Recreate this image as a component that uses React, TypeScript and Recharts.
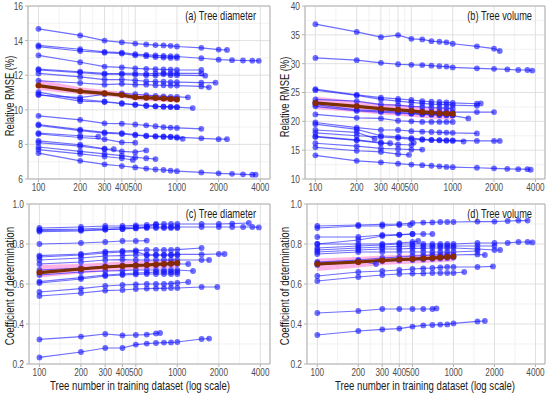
import React from "react";
import {
  ComposedChart,
  Line,
  Area,
  XAxis,
  YAxis,
  CartesianGrid,
  ReferenceArea,
} from "recharts";

// sample sizes along x; a series' last point may sit at its own "end" size
const xGrid = [100, 200, 300, 400, 500, 600, 700, 800, 900, 1000, 1500, 2000, 2500, 3000, 3500];
const xTicks = [100, 200, 300, 400, 500, 1000, 2000, 4000];
const xMinor = [141, 245, 346, 447, 707, 1414, 2828];
const xDomain = [84, 4700];

type Series = { y: number[]; end?: number };

// (a) relative RMSE (%) - tree diameter
const diamRmse: Series[] = [
  { y: [14.68, 14.3, 14.0, 13.9, 13.83, 13.78, 13.74, 13.72, 13.7, 13.66, 13.58, 13.48, 13.46], end: 2300 },
  { y: [13.72, 13.5, 13.35, 13.3, 13.22, 13.18, 13.15, 13.12, 13.1, 13.08, 12.98, 12.9, 12.87, 12.85, 12.84, 12.83], end: 3900 },
  { y: [13.65, 13.4, 13.3, 13.25, 13.15, 13.1, 13.05, 13.02, 13.0, 13.0] },
  { y: [13.15, 12.75, 12.5, 12.45, 12.4, 12.37, 12.35, 12.33, 12.32, 12.3, 12.3] },
  { y: [12.35, 12.2, 12.1, 12.05, 12.02, 12.0, 11.98, 12.05, 12.0, 12.0, 11.97], end: 1600 },
  { y: [12.3, 12.15, 12.05, 12.1, 12.1, 12.08, 12.1, 12.12, 12.1, 12.1, 12.1] },
  { y: [12.1, 11.9, 11.75, 11.75, 11.7, 11.65, 11.63, 11.62, 11.6, 11.6, 11.57, 11.57], end: 1900 },
  { y: [11.68, 11.55, 11.45, 11.5, 11.45, 11.45, 11.42, 11.42, 11.4, 11.4, 11.35, 11.3], end: 1700 },
  { y: [11.02, 10.6, 10.48, 10.38, 10.3, 10.25, 10.2, 10.18, 10.16, 10.15, 10.1], end: 1300 },
  { y: [10.85, 10.7, 10.9, 10.95, 10.9, 10.85, 10.8, 10.78, 10.75, 10.75, 10.72], end: 1200 },
  { y: [10.9, 10.5, 10.45, 10.35, 10.28, 10.22, 10.2, 10.18, 10.17, 10.15] },
  { y: [9.65, 9.42, 9.22, 9.2, 9.15, 9.1, 9.05, 9.0, 8.97, 8.95, 8.9] },
  { y: [9.15, 8.85, 8.7, 8.65, 8.57, 8.5, 8.48, 8.46, 8.45, 8.42, 8.35, 8.3, 8.3], end: 2300 },
  { y: [9.1, 8.8, 8.65, 8.6, 8.53, 8.48, 8.45, 8.43, 8.42, 8.38, 8.32], end: 1100 },
  { y: [8.65, 8.5, 8.45], end: 270 },
  { y: [8.6, 8.4, 8.3, 8.12, 8.1] },
  { y: [8.2, 7.98, 7.75, 7.72], end: 350 },
  { y: [8.1, 7.9, 7.72, 7.6, 7.55, 7.65] },
  { y: [7.85, 7.6, 7.45, 7.35, 7.25, 7.2, 7.15] },
  { y: [7.7, 7.45, 7.3, 7.2, 7.1], end: 480 },
  { y: [7.5, 7.05, 6.85, 6.75, 6.67, 6.6, 6.55, 6.52, 6.48, 6.45, 6.38, 6.33, 6.3, 6.27, 6.25, 6.25], end: 3700 },
];
const diamRmseMean = [11.4, 11.07, 10.95, 10.85, 10.72, 10.7, 10.68, 10.65, 10.63, 10.6];
const diamRmseLow = [11.15, 10.9, 10.8, 10.7, 10.55, 10.52, 10.5, 10.47, 10.45, 10.42];
const diamRmseHigh = [11.75, 11.3, 11.15, 11.05, 10.9, 10.88, 10.86, 10.83, 10.8, 10.78];

// (b) relative RMSE (%) - tree volume
const volRmse: Series[] = [
  { y: [36.85, 35.5, 34.6, 34.95, 34.3, 34.2, 33.9, 33.8, 33.7, 33.45, 33.0, 32.6, 32.2], end: 2200 },
  { y: [31.0, 30.6, 30.15, 29.9, 29.8, 29.75, 29.65, 29.55, 29.5, 29.35, 29.2, 29.1, 29.0, 28.9, 28.9, 28.8], end: 3800 },
  { y: [25.6, 24.6, 24.1, 23.9, 23.7, 23.5, 23.4, 23.35, 23.3, 23.2, 23.05, 23.1], end: 1600 },
  { y: [25.4, 24.5, 23.8, 23.5, 23.3, 23.1, 23.0, 22.95, 22.9, 22.8, 22.7] },
  { y: [23.8, 23.5, 22.9, 22.8, 22.6, 22.5, 22.4, 22.35, 22.3, 22.2] },
  { y: [23.3, 22.6, 22.1, 22.0, 21.9, 21.8, 21.7, 21.7, 21.65, 21.6, 21.6, 21.6] },
  { y: [22.9, 22.0, 21.8, 21.6, 21.4, 21.3, 21.2, 21.1, 21.05, 21.0, 20.5], end: 1300 },
  { y: [22.6, 21.8, 21.6, 21.4, 21.3, 21.2, 21.15, 21.1, 21.1, 21.05] },
  { y: [21.2, 20.6, 20.5, 20.1, 20.0, 19.9, 19.9, 19.9, 19.9, 19.9] },
  { y: [19.8, 18.9, 18.5, 18.5, 18.3, 18.2, 18.15, 18.1, 18.05, 18.0, 17.9] },
  { y: [19.5, 18.6, 17.5, 17.3, 17.1, 16.9, 16.8, 16.75, 16.7, 16.7, 16.6, 16.6, 16.6], end: 2200 },
  { y: [18.5, 18.1, 17.0], end: 270 },
  { y: [18.0, 17.5, 17.3, 17.1, 16.9, 16.8, 16.75, 16.7, 16.65, 16.6, 16.5], end: 1200 },
  { y: [17.4, 16.8, 16.3, 16.2], end: 350 },
  { y: [17.3, 16.7, 16.2, 16.0, 15.9, 16.3], end: 520 },
  { y: [16.2, 15.7, 15.3, 15.2, 15.1, 15.1] },
  { y: [15.5, 14.9, 14.7, 14.3, 14.2], end: 480 },
  { y: [14.1, 13.15, 12.9, 12.65, 12.5, 12.4, 12.3, 12.2, 12.1, 12.05, 11.95, 11.85, 11.75, 11.7, 11.7, 11.6], end: 3700 },
];
const volRmseMean = [23.2, 22.6, 22.2, 22.0, 21.8, 21.6, 21.5, 21.4, 21.35, 21.3];
const volRmseLow = [22.1, 21.6, 21.2, 21.0, 20.8, 20.6, 20.5, 20.4, 20.35, 20.3];
const volRmseHigh = [24.3, 23.5, 23.1, 22.9, 22.7, 22.5, 22.4, 22.3, 22.3, 22.2];

// (c) coefficient of determination - tree diameter
const diamR2: Series[] = [
  { y: [0.88, 0.885, 0.89, 0.89, 0.893, 0.895, 0.897, 0.9, 0.9, 0.9, 0.9, 0.9, 0.902, 0.905], end: 3300 },
  { y: [0.872, 0.875, 0.88, 0.882, 0.885, 0.885, 0.885, 0.885, 0.885, 0.885, 0.885, 0.885, 0.885, 0.885, 0.885, 0.883], end: 3900 },
  { y: [0.868, 0.87, 0.872, 0.875, 0.878, 0.88, 0.88, 0.88, 0.88, 0.88] },
  { y: [0.862, 0.866, 0.872, 0.875, 0.88, 0.885, 0.9] },
  { y: [0.8, 0.805, 0.81, 0.815, 0.815, 0.817] },
  { y: [0.742, 0.75, 0.762, 0.765, 0.768, 0.77, 0.77, 0.77, 0.77, 0.772, 0.78] },
  { y: [0.735, 0.745, 0.755, 0.76, 0.762, 0.745, 0.745, 0.745, 0.745, 0.745] },
  { y: [0.72, 0.73, 0.74, 0.742, 0.745, 0.745, 0.745, 0.745, 0.746, 0.748, 0.748, 0.75, 0.75], end: 2200 },
  { y: [0.7, 0.71, 0.72, 0.722, 0.72, 0.72, 0.72, 0.72, 0.72, 0.72, 0.72, 0.72], end: 1700 },
  { y: [0.67, 0.68, 0.69, 0.693, 0.695, 0.695, 0.695, 0.697, 0.7, 0.7, 0.7], end: 1200 },
  { y: [0.645, 0.66, 0.665, 0.667, 0.67, 0.67, 0.67, 0.67, 0.67, 0.67, 0.665], end: 1300 },
  { y: [0.612, 0.632, 0.645, 0.65, 0.655, 0.657, 0.66, 0.66, 0.66, 0.66] },
  { y: [0.605, 0.625, 0.64, 0.645, 0.648, 0.65, 0.65, 0.65, 0.65, 0.65] },
  { y: [0.56, 0.577, 0.59, 0.595, 0.598, 0.6, 0.6, 0.6, 0.602, 0.605, 0.61], end: 1200 },
  { y: [0.54, 0.555, 0.567, 0.57, 0.575, 0.577, 0.578, 0.578, 0.58, 0.58, 0.585, 0.585], end: 1950 },
  { y: [0.323, 0.337, 0.35, 0.343, 0.345, 0.347, 0.353, 0.355], end: 750 },
  { y: [0.233, 0.26, 0.28, 0.28, 0.297, 0.302, 0.305, 0.307, 0.308, 0.31, 0.325, 0.327], end: 1700 },
];
const diamR2Mean = [0.657, 0.675, 0.685, 0.69, 0.693, 0.695, 0.698, 0.7, 0.702, 0.705];
const diamR2Low = [0.633, 0.652, 0.663, 0.668, 0.672, 0.674, 0.676, 0.677, 0.678, 0.68];
const diamR2High = [0.695, 0.7, 0.707, 0.712, 0.716, 0.718, 0.72, 0.722, 0.725, 0.728];

// (d) coefficient of determination - tree volume
const volR2: Series[] = [
  { y: [0.89, 0.895, 0.898, 0.9, 0.905, 0.907, 0.908, 0.91, 0.91, 0.91, 0.912, 0.912, 0.915, 0.917, 0.917] },
  { y: [0.88, 0.89, 0.89, 0.895, 0.895], end: 480 },
  { y: [0.835, 0.835, 0.845, 0.847, 0.85, 0.85, 0.85] },
  { y: [0.8, 0.82, 0.84, 0.845, 0.85] },
  { y: [0.8, 0.8, 0.8, 0.805, 0.81, 0.815], end: 550 },
  { y: [0.78, 0.79, 0.795, 0.8, 0.8, 0.8, 0.8, 0.8, 0.8, 0.8, 0.805, 0.805, 0.805, 0.81, 0.81, 0.808], end: 3800 },
  { y: [0.77, 0.78, 0.785, 0.788, 0.79, 0.79, 0.79, 0.79, 0.79, 0.79, 0.79, 0.79] },
  { y: [0.76, 0.77, 0.775, 0.775, 0.778, 0.778, 0.78, 0.78, 0.78, 0.78, 0.775, 0.77, 0.77], end: 2200 },
  { y: [0.75, 0.76, 0.76, 0.76, 0.76, 0.76, 0.76, 0.76, 0.76, 0.76, 0.765] },
  { y: [0.71, 0.72, 0.73, 0.735, 0.74, 0.742, 0.745, 0.745, 0.745, 0.745, 0.748, 0.745], end: 1700 },
  { y: [0.705, 0.715, 0.7], end: 270 },
  { y: [0.695, 0.71, 0.715, 0.718, 0.72, 0.722, 0.725, 0.727, 0.73, 0.732] },
  { y: [0.64, 0.66, 0.665, 0.67, 0.675, 0.678, 0.68, 0.683, 0.685, 0.685, 0.685, 0.688], end: 1950 },
  { y: [0.615, 0.635, 0.645, 0.65, 0.652, 0.653, 0.655, 0.655, 0.655, 0.655, 0.66], end: 1200 },
  { y: [0.455, 0.465, 0.475, 0.475, 0.475, 0.475, 0.475, 0.478], end: 750 },
  { y: [0.345, 0.365, 0.373, 0.377, 0.387, 0.393, 0.395, 0.397, 0.398, 0.403, 0.413, 0.415], end: 1700 },
];
const volR2Mean = [0.7, 0.71, 0.718, 0.722, 0.725, 0.728, 0.73, 0.733, 0.735, 0.737];
const volR2Low = [0.665, 0.683, 0.695, 0.7, 0.703, 0.705, 0.707, 0.709, 0.71, 0.712];
const volR2High = [0.728, 0.735, 0.742, 0.745, 0.748, 0.75, 0.753, 0.755, 0.757, 0.76];

const rmseDiamTicks = [6, 8, 10, 12, 14, 16];
const rmseDiamMinor = [7, 9, 11, 13, 15];
const rmseVolTicks = [10, 15, 20, 25, 30, 35, 40];
const rmseVolMinor = [12.5, 17.5, 22.5, 27.5, 32.5, 37.5];
const r2Ticks = [0.2, 0.4, 0.6, 0.8, 1.0];
const r2Minor = [0.3, 0.5, 0.7, 0.9];

const FONT = "'Liberation Sans', Arial, sans-serif";

function toPoints(s: Series) {
  return s.y.map((y, i) => ({
    x: s.end !== undefined && i === s.y.length - 1 ? s.end : xGrid[i],
    y,
  }));
}

const XTick = (props: any) => {
  const { x, y, payload } = props;
  return (
    <text
      transform={`translate(${x},${y}) scale(0.78,1)`}
      dy="0.62em"
      textAnchor="middle"
      fontSize={10.5}
      fontFamily={FONT}
      fill="#4d4d4d"
    >
      {payload.value}
    </text>
  );
};

const makeYTick = (fmt: (v: number) => string) => (props: any) => {
  const { x, y, payload } = props;
  return (
    <text
      transform={`translate(${x},${y}) scale(0.76,1)`}
      dy="0.36em"
      textAnchor="end"
      fontSize={11}
      fontFamily={FONT}
      fill="#4d4d4d"
    >
      {fmt(payload.value)}
    </text>
  );
};

interface PanelProps {
  left: number;
  top: number;
  height: number;
  marginTop: number;
  yWidth: number;
  xHeight: number;
  domain: number[];
  ticks: number[];
  minor: number[];
  series: Series[];
  mean: number[];
  low: number[];
  high: number[];
  fmt: (v: number) => string;
}

function Panel(p: PanelProps) {
  const meanPts = p.mean.map((y, i) => ({
    x: xGrid[i],
    mean: y,
    band: [p.low[i], p.high[i]],
  }));
  const YTick = makeYTick(p.fmt);
  return (
    <div style={{ position: "absolute", left: p.left, top: p.top }}>
      <ComposedChart
        width={275}
        height={p.height}
        data={meanPts}
        margin={{ top: p.marginTop, right: 5, bottom: 0, left: 0 }}
      >
        <CartesianGrid
          stroke="#ececec"
          strokeWidth={0.7}
          horizontalValues={p.minor}
          verticalValues={xMinor}
        />
        <CartesianGrid stroke="#dcdcdc" strokeWidth={0.9} />
        <XAxis
          type="number"
          dataKey="x"
          scale="log"
          domain={xDomain}
          ticks={xTicks}
          interval={0}
          allowDataOverflow
          height={p.xHeight}
          axisLine={false}
          tickLine={{ stroke: "#b3b3b3" }}
          tickSize={3}
          tick={<XTick />}
        />
        <YAxis
          type="number"
          domain={p.domain}
          ticks={p.ticks}
          interval={0}
          allowDataOverflow
          width={p.yWidth}
          axisLine={false}
          tickLine={{ stroke: "#b3b3b3" }}
          tickSize={3}
          tick={<YTick />}
        />
        {p.series.map((s, i) => (
          <Line
            key={i}
            data={toPoints(s)}
            dataKey="y"
            stroke="#2020ff"
            strokeOpacity={0.65}
            strokeWidth={1.2}
            dot={{ r: 2.9, fill: "#1414ff", fillOpacity: 0.62, stroke: "none", strokeWidth: 0 }}
            activeDot={false}
            isAnimationActive={false}
          />
        ))}
        <Area
          dataKey="band"
          type="linear"
          stroke="none"
          fill="#ff66cc"
          fillOpacity={0.5}
          isAnimationActive={false}
          activeDot={false}
        />
        <Line
          dataKey="mean"
          stroke="#7a3000"
          strokeWidth={3.2}
          dot={{ r: 3, fill: "#8b2a00", stroke: "none", strokeWidth: 0 }}
          activeDot={false}
          isAnimationActive={false}
        />
        <ReferenceArea
          x1={xDomain[0]}
          x2={xDomain[1]}
          y1={p.domain[0]}
          y2={p.domain[1]}
          fill="none"
          stroke="#b3b3b3"
          ifOverflow="visible"
        />
      </ComposedChart>
    </div>
  );
}

const Label = ({ x, y, text, anchor = "middle", rotate = false, size = 12.5, sx = 0.76 }: any) => (
  <text
    transform={`translate(${x},${y})${rotate ? " rotate(-90)" : ""} scale(${sx},1)`}
    textAnchor={anchor}
    fontSize={size}
    fontFamily={FONT}
    fill="#1a1a1a"
  >
    {text}
  </text>
);

const f0 = (v: number) => String(v);
const f1 = (v: number) => v.toFixed(1);

export default function App() {
  return (
    <div
      style={{
        position: "absolute",
        left: 0,
        top: 0,
        width: 550,
        height: 393,
        background: "#ffffff",
        overflow: "hidden",
      }}
    >
      <Panel left={0} top={0} height={196} marginTop={6} yWidth={28} xHeight={17}
        domain={[6, 16]} ticks={rmseDiamTicks} minor={rmseDiamMinor}
        series={diamRmse} mean={diamRmseMean} low={diamRmseLow} high={diamRmseHigh} fmt={f0} />
      <Panel left={275} top={0} height={196} marginTop={6} yWidth={30} xHeight={17}
        domain={[10, 40]} ticks={rmseVolTicks} minor={rmseVolMinor}
        series={volRmse} mean={volRmseMean} low={volRmseLow} high={volRmseHigh} fmt={f0} />
      <Panel left={0} top={196} height={197} marginTop={8} yWidth={29} xHeight={29}
        domain={[0.2, 1.0]} ticks={r2Ticks} minor={r2Minor}
        series={diamR2} mean={diamR2Mean} low={diamR2Low} high={diamR2High} fmt={f1} />
      <Panel left={275} top={196} height={197} marginTop={8} yWidth={32} xHeight={29}
        domain={[0.2, 1.0]} ticks={r2Ticks} minor={r2Minor}
        series={volR2} mean={volR2Mean} low={volR2Low} high={volR2High} fmt={f1} />
      <svg
        width={550}
        height={393}
        style={{ position: "absolute", left: 0, top: 0, pointerEvents: "none" }}
      >
        <Label x={256} y={20} text="(a) Tree diameter" anchor="end" size={12.5} sx={0.74} />
        <Label x={532} y={20} text="(b) Tree volume" anchor="end" size={12.5} sx={0.74} />
        <Label x={256} y={218} text="(c) Tree diameter" anchor="end" size={12.5} sx={0.74} />
        <Label x={532} y={218} text="(d) Tree volume" anchor="end" size={12.5} sx={0.74} />
        <Label x={14} y={96} text="Relative RMSE (%)" rotate sx={0.75} />
        <Label x={289} y={97} text="Relative RMSE (%)" rotate sx={0.75} />
        <Label x={14} y={286} text="Coefficient of determination" rotate sx={0.78} />
        <Label x={289} y={286} text="Coefficient of determination" rotate sx={0.78} />
        <Label x={140} y={390} text="Tree number in training dataset (log scale)" size={12} sx={0.8} />
        <Label x={425} y={390} text="Tree number in training dataset (log scale)" size={12} sx={0.8} />
      </svg>
    </div>
  );
}
